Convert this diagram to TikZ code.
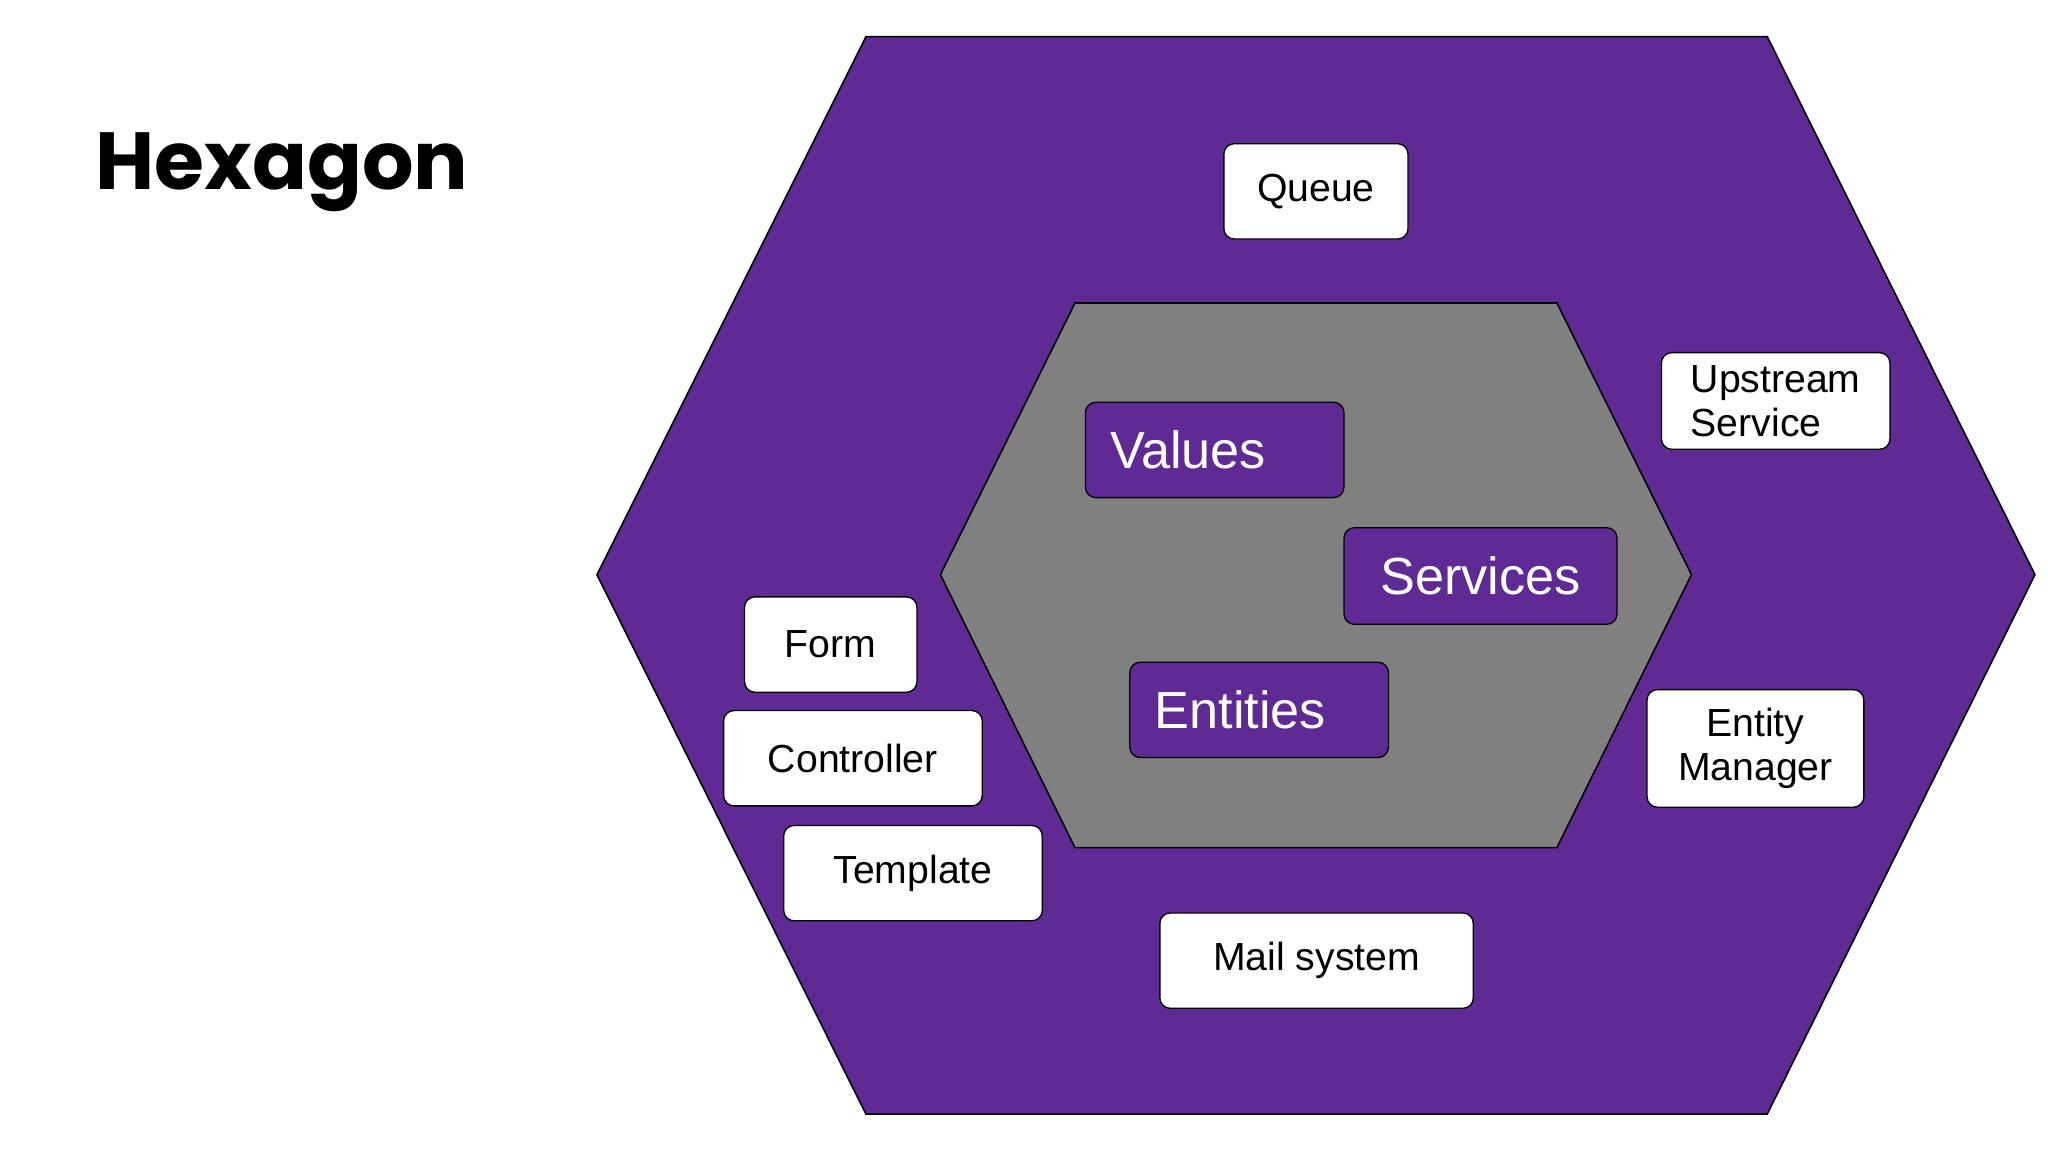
\documentclass[tikz,border=0pt]{standalone}
\usepackage{fontspec}
\setmainfont{Liberation Sans}
\newfontfamily\titlefont{Poppins}
\definecolor{hexpurple}{HTML}{5F2A94}
\definecolor{hexgray}{HTML}{808080}
\begin{document}
\begin{tikzpicture}[x=0.5pt,y=-0.5pt,
  box/.style={draw=black,fill=white,rounded corners=4pt,line width=0.5pt,font=\fontsize{15}{17}\selectfont,align=left,inner sep=0pt},
  core/.style={draw=black,fill=hexpurple,text=white,rounded corners=4pt,line width=0.5pt,font=\fontsize{20}{22}\selectfont,inner sep=0pt}]
\useasboundingbox (0,0) rectangle (1568,882);
\fill[white] (0,0) rectangle (1568,882);
\node[anchor=west,font=\titlefont\bfseries\fontsize{31}{34}\selectfont] (title) at (66,132) {Hexagon};
\draw[fill=hexpurple,line width=0.6pt] (663,28)--(1353,28)--(1558,440)--(1353,853)--(663,853)--(457,440)--cycle;
\draw[fill=hexgray,line width=0.6pt] (823,232)--(1192,232)--(1295,440)--(1192,649)--(823,649)--(720,440)--cycle;
\node[box,minimum width=70.5pt,minimum height=36.5pt] (queue) at (1007.5,146.5) {Queue};
\node[box,minimum width=87.5pt,minimum height=37pt] (up) at (1359.5,307) {Upstream\\Service};
\node[core,minimum width=99pt,minimum height=36.5pt,text width=80pt] (val) at (930,344.5) {Values};
\node[core,minimum width=104.5pt,minimum height=37pt] (srv) at (1133.5,441) {Services};
\node[core,minimum width=99pt,minimum height=36.5pt,text width=80pt] (ent) at (964,543.5) {Entities};
\node[box,minimum width=66pt,minimum height=36.5pt] (form) at (636,493.5) {Form};
\node[box,minimum width=99pt,minimum height=36.5pt] (ctrl) at (653,580.5) {Controller};
\node[box,minimum width=99pt,minimum height=36.5pt] (tpl) at (699,668.5) {Template};
\node[box,minimum width=83pt,minimum height=45pt,align=center] (em) at (1344,573) {Entity\\Manager};
\node[box,minimum width=120pt,minimum height=36.5pt] (mail) at (1008,735.5) {Mail system};
\end{tikzpicture}
\end{document}
